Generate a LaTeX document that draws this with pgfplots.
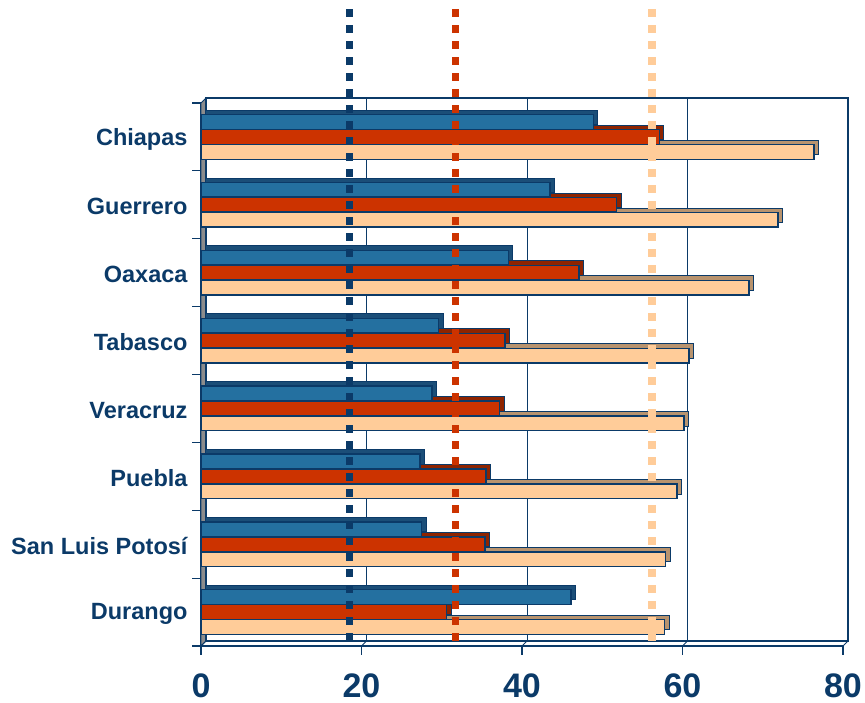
\documentclass[border=0pt]{standalone}
\usepackage{fontspec}
\setmainfont{Liberation Sans}
\usepackage{pgfplots}
\usepackage{pgfplotstable}
\pgfplotsset{compat=1.18}

\definecolor{navy}{HTML}{0B3A68}
\definecolor{barblue}{HTML}{2470A0}
\definecolor{barred}{HTML}{CC3300}
\definecolor{barpeach}{HTML}{FFCC99}
\definecolor{depthblue}{HTML}{1B4E78}
\definecolor{depthred}{HTML}{8E2400}
\definecolor{depthpeach}{HTML}{B8936E}
\definecolor{wallgray}{HTML}{8C8C8C}

% cat 7 = Chiapas (top) ... 0 = Durango (bottom)
\pgfplotstableread{
cat blue red peach
7 48.9 57.1 76.4
6 43.5 51.8 71.9
5 38.3 47.1 68.3
4 29.6 37.9 60.8
3 28.8 37.2 60.2
2 27.3 35.5 59.3
1 27.5 35.4 57.9
0 46.1 30.6 57.8
}\datatable

\begin{document}
\begin{tikzpicture}[x=1pt,y=1pt]
\path[use as bounding box] (0,0) rectangle (865,703);
\begin{axis}[
  at={(201pt,57pt)}, anchor=south west,
  scale only axis, width=642pt, height=543pt,
  xmin=0, xmax=80, ymin=-0.5, ymax=7.5,
  clip=false,
  axis x line*=bottom, axis y line*=left,
  axis line style={navy, line width=1.2pt, -},
  xtick={0,20,40,60,80},
  tick align=outside,
  major tick length=9pt,
  tick style={navy, line width=1.2pt},
  xticklabel style={font=\bfseries\fontsize{34}{34}\selectfont, text=navy, yshift=-15pt},
  /pgf/number format/assume math mode=true,
  ytick={-0.5,0.5,...,7.5},
  yticklabels={},
  extra y ticks={0,...,7},
  extra y tick labels={Durango,San Luis Potosí,Puebla,Veracruz,Tabasco,Oaxaca,Guerrero,Chiapas},
  extra y tick style={tick style={draw=none},
    yticklabel style={font=\bfseries\fontsize{23.5}{23.5}\selectfont, text=navy, xshift=-1pt, yshift=-2pt}},
  bar width=0.215,
]
% back wall, side wall and floor
\fill[wallgray, draw=navy, line width=0.8pt] (0,-0.5) -- (0,7.5) -- ([shift={(5pt,5pt)}]axis cs:0,7.5) -- ([shift={(5pt,5pt)}]axis cs:0,-0.5) -- cycle;
\draw[navy, line width=1.2pt] ([shift={(5pt,5pt)}]axis cs:0,-0.5) rectangle ([shift={(5pt,5pt)}]axis cs:80,7.5);
\pgfplotsinvokeforeach{20,40,60}{
  \draw[navy, line width=1pt] ([shift={(5pt,5pt)}]axis cs:#1,-0.5) -- ([shift={(5pt,5pt)}]axis cs:#1,7.5);
}
\pgfplotsinvokeforeach{0,20,40,60,80}{
  \draw[navy, line width=1pt] (#1,-0.5) -- ++(5pt,5pt);
}

% depth (top and side faces)
\addplot[xbar, bar shift=0.221, fill=depthblue, draw=navy, line width=1pt, xshift=4.5pt, yshift=4.5pt] table[x=blue, y=cat] {\datatable};
\addplot[xbar, bar shift=0, fill=depthred, draw=navy, line width=1pt, xshift=4.5pt, yshift=4.5pt] table[x=red, y=cat] {\datatable};
\addplot[xbar, bar shift=-0.221, fill=depthpeach, draw=navy, line width=1pt, xshift=4.5pt, yshift=4.5pt] table[x=peach, y=cat] {\datatable};

% front faces
\addplot[xbar, bar shift=0.221, fill=barblue, draw=navy, line width=1.3pt] table[x=blue, y=cat] {\datatable};
\addplot[xbar, bar shift=0, fill=barred, draw=navy, line width=1.3pt] table[x=red, y=cat] {\datatable};
\addplot[xbar, bar shift=-0.221, fill=barpeach, draw=navy, line width=1.3pt] table[x=peach, y=cat] {\datatable};

% reference lines
\addplot[navy, line width=7.5pt, dash pattern=on 7.5pt off 8.5pt] coordinates {(18.5,-0.426) (18.5,8.88)};
\addplot[barred, line width=7.5pt, dash pattern=on 7.5pt off 8.5pt] coordinates {(31.7,-0.426) (31.7,8.88)};
\addplot[barpeach, line width=7.5pt, dash pattern=on 7.5pt off 8.5pt] coordinates {(56.2,-0.426) (56.2,8.88)};
\end{axis}
\end{tikzpicture}
\end{document}
